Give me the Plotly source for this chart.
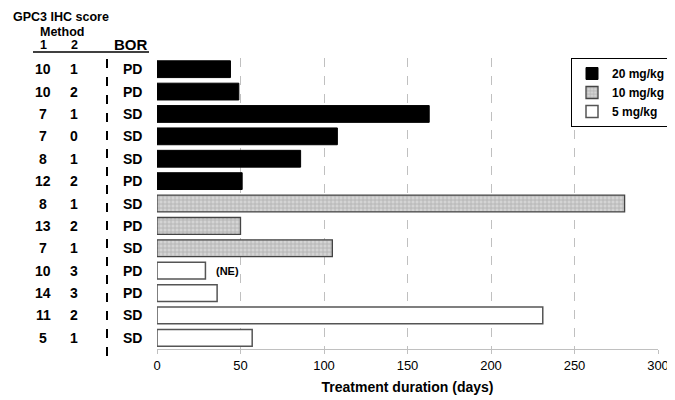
import plotly.graph_objects as go

# ---- data ----
method1 = [10, 10, 7, 7, 8, 12, 8, 13, 7, 10, 14, 11, 5]
method2 = [1, 2, 1, 0, 1, 2, 1, 2, 1, 3, 3, 2, 1]
bor = ["PD", "PD", "SD", "SD", "SD", "PD", "SD", "PD", "SD", "PD", "PD", "SD", "SD"]
dose = ["20 mg/kg"] * 6 + ["10 mg/kg"] * 3 + ["5 mg/kg"] * 4
duration = [44, 49, 163, 108, 86, 51, 280, 50, 105, 29, 36, 231, 57]
ne_flag = [False] * 9 + [True] + [False] * 3
x_ticks = [0, 50, 100, 150, 200, 250, 300]

FONT = "Liberation Sans, Arial, sans-serif"
rows = list(range(len(duration)))

styles = {
    "20 mg/kg": dict(marker=dict(color="black", line=dict(color="black", width=1))),
    "10 mg/kg": dict(marker=dict(color="#c8c8c8",
                                 line=dict(color="#444444", width=1.3),
                                 pattern=dict(shape="+", fgcolor="#8a8a8a", bgcolor="#d4d4d4",
                                              size=4, solidity=0.35))),
    "5 mg/kg": dict(marker=dict(color="white", line=dict(color="#555555", width=1.5))),
}

fig = go.Figure()
for d in ["20 mg/kg", "10 mg/kg", "5 mg/kg"]:
    idx = [i for i in rows if dose[i] == d]
    fig.add_trace(go.Bar(
        x=[duration[i] for i in idx], y=idx, orientation="h", name=f"<b>{d}</b>",
        width=0.75, **styles[d]))

# page body has an 8px margin: figure is 667x392, plot area 149..650 x 50..341
L, T = 157, 58  # plot-area left/top as seen in the page
ann = []
for i in rows:
    for val, px in [(method1[i], 43), (method2[i], 74), (bor[i], 132)]:
        ann.append(dict(x=0, xref="paper", y=i, yref="y", text=f"<b>{val}</b>",
                        showarrow=False, xanchor="center", yanchor="middle",
                        xshift=px - L, font=dict(family=FONT, size=14, color="black")))
    if ne_flag[i]:
        ann.append(dict(x=duration[i], xref="x", y=i, yref="y", text="<b>(NE)</b>",
                        showarrow=False, xanchor="left", yanchor="middle", xshift=9,
                        font=dict(family=FONT, size=11, color="black")))

headers = [("GPC3 IHC score", 61, 17, 12.5), ("Method", 62, 32, 12.5),
           ("1", 43, 45, 12.5), ("2", 74, 45, 12.5), ("BOR", 131, 44, 15)]
for t, px, py, fs in headers:
    ann.append(dict(x=0, xref="paper", y=1, yref="paper", text=f"<b>{t}</b>",
                    showarrow=False, xanchor="center", yanchor="middle",
                    xshift=px - L, yshift=T - py,
                    font=dict(family=FONT, size=fs, color="black")))

PW, PH = 501, 291
B = T + PH
shapes = [
    dict(type="line", xref="paper", yref="paper",
         x0=(33 - L) / PW, x1=(149 - L) / PW,
         y0=(B - 52) / PH, y1=(B - 52) / PH,
         line=dict(color="black", width=1.5)),
    dict(type="line", xref="paper", yref="paper",
         x0=(107 - L) / PW, x1=(107 - L) / PW,
         y0=(B - 356) / PH, y1=1,
         line=dict(color="black", width=2, dash="dash")),
]

fig.update_layout(
    width=667, height=392,
    margin=dict(l=149, r=17, t=50, b=51, autoexpand=False),
    paper_bgcolor="white", plot_bgcolor="white",
    font=dict(family=FONT, color="black"),
    barmode="overlay",
    annotations=ann, shapes=shapes,
    legend=dict(x=(571 - L) / PW, y=1, xanchor="left", yanchor="top",
                bordercolor="black", borderwidth=1, bgcolor="white",
                font=dict(family=FONT, size=12, color="black"),
                tracegroupgap=0, itemwidth=30),
    showlegend=True,
)
fig.update_xaxes(range=[0, 300], tickvals=x_ticks, showgrid=True, automargin=False,
                 gridcolor="#c0c0c0", griddash="dash", gridwidth=1,
                 showline=True, linecolor="#c0c0c0", linewidth=1,
                 ticks="outside", ticklen=4, tickcolor="#c0c0c0",
                 tickfont=dict(family=FONT, size=13, color="black"),
                 zeroline=False,
                 title=dict(text="<b>Treatment duration (days)</b>",
                            font=dict(family=FONT, size=14, color="black"), standoff=10))
fig.update_yaxes(range=[12.5, -0.5], showticklabels=False, showgrid=False, automargin=False,
                 zeroline=False, showline=False)

fig.write_html("out.html")
